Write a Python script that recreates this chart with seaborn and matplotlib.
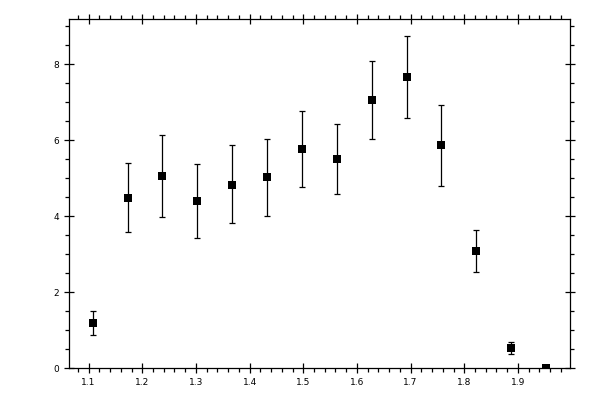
import numpy as np
import pandas as pd
import matplotlib
matplotlib.use("Agg")
import matplotlib.pyplot as plt
import seaborn as sns
from matplotlib.ticker import MultipleLocator

# data
x_vals = [1.1075, 1.1725, 1.2375, 1.3025, 1.3675, 1.4325, 1.4975,
          1.5625, 1.6275, 1.6925, 1.7575, 1.8225, 1.8875, 1.9525]
y_vals = [1.18, 4.47, 5.05, 4.39, 4.83, 5.03, 5.76,
          5.50, 7.05, 7.66, 5.87, 3.08, 0.53, 0.0]
y_upper = [1.50, 5.39, 6.13, 5.37, 5.87, 6.02, 6.78,
           6.42, 8.08, 8.74, 6.92, 3.65, 0.68, 0.0]
y_lower = [0.87, 3.58, 3.97, 3.42, 3.82, 4.00, 4.76,
           4.58, 6.03, 6.58, 4.79, 2.53, 0.38, 0.0]

df = pd.DataFrame({"x": x_vals, "y": y_vals, "hi": y_upper, "lo": y_lower})

sns.set_style("ticks")
plt.rcParams['font.family'] = ['DejaVu Sans']

fig = plt.figure(figsize=(6, 4), dpi=100)
ax = fig.add_axes([0.1155, 0.0793, 0.8345, 0.8732])

# error bars
yerr = np.array([df["y"] - df["lo"], df["hi"] - df["y"]])
ax.errorbar(df["x"], df["y"], yerr=yerr, fmt="none", ecolor="black",
            elinewidth=0.9, capsize=2.2, capthick=0.9)
# square markers
sns.scatterplot(data=df, x="x", y="y", marker="s", color="black",
                s=30, edgecolor="black", linewidth=0, ax=ax, zorder=3)

ax.set_xlim(1.064, 1.997)
ax.set_ylim(0, 9.19)
ax.set_xlabel("")
ax.set_ylabel("")

ax.xaxis.set_major_locator(MultipleLocator(0.1))
ax.xaxis.set_minor_locator(MultipleLocator(0.02))
ax.yaxis.set_major_locator(MultipleLocator(2))
ax.yaxis.set_minor_locator(MultipleLocator(0.5))

ax.tick_params(which="both", top=True, right=True, colors="black",
               labelsize=6.5, width=0.9)
ax.tick_params(which="major", direction="inout", length=6.5, pad=4)
ax.tick_params(which="minor", direction="out", length=3)

for sp in ax.spines.values():
    sp.set_visible(True)
    sp.set_linewidth(0.9)
    sp.set_color("black")

fig.savefig("out.png", dpi=100)
